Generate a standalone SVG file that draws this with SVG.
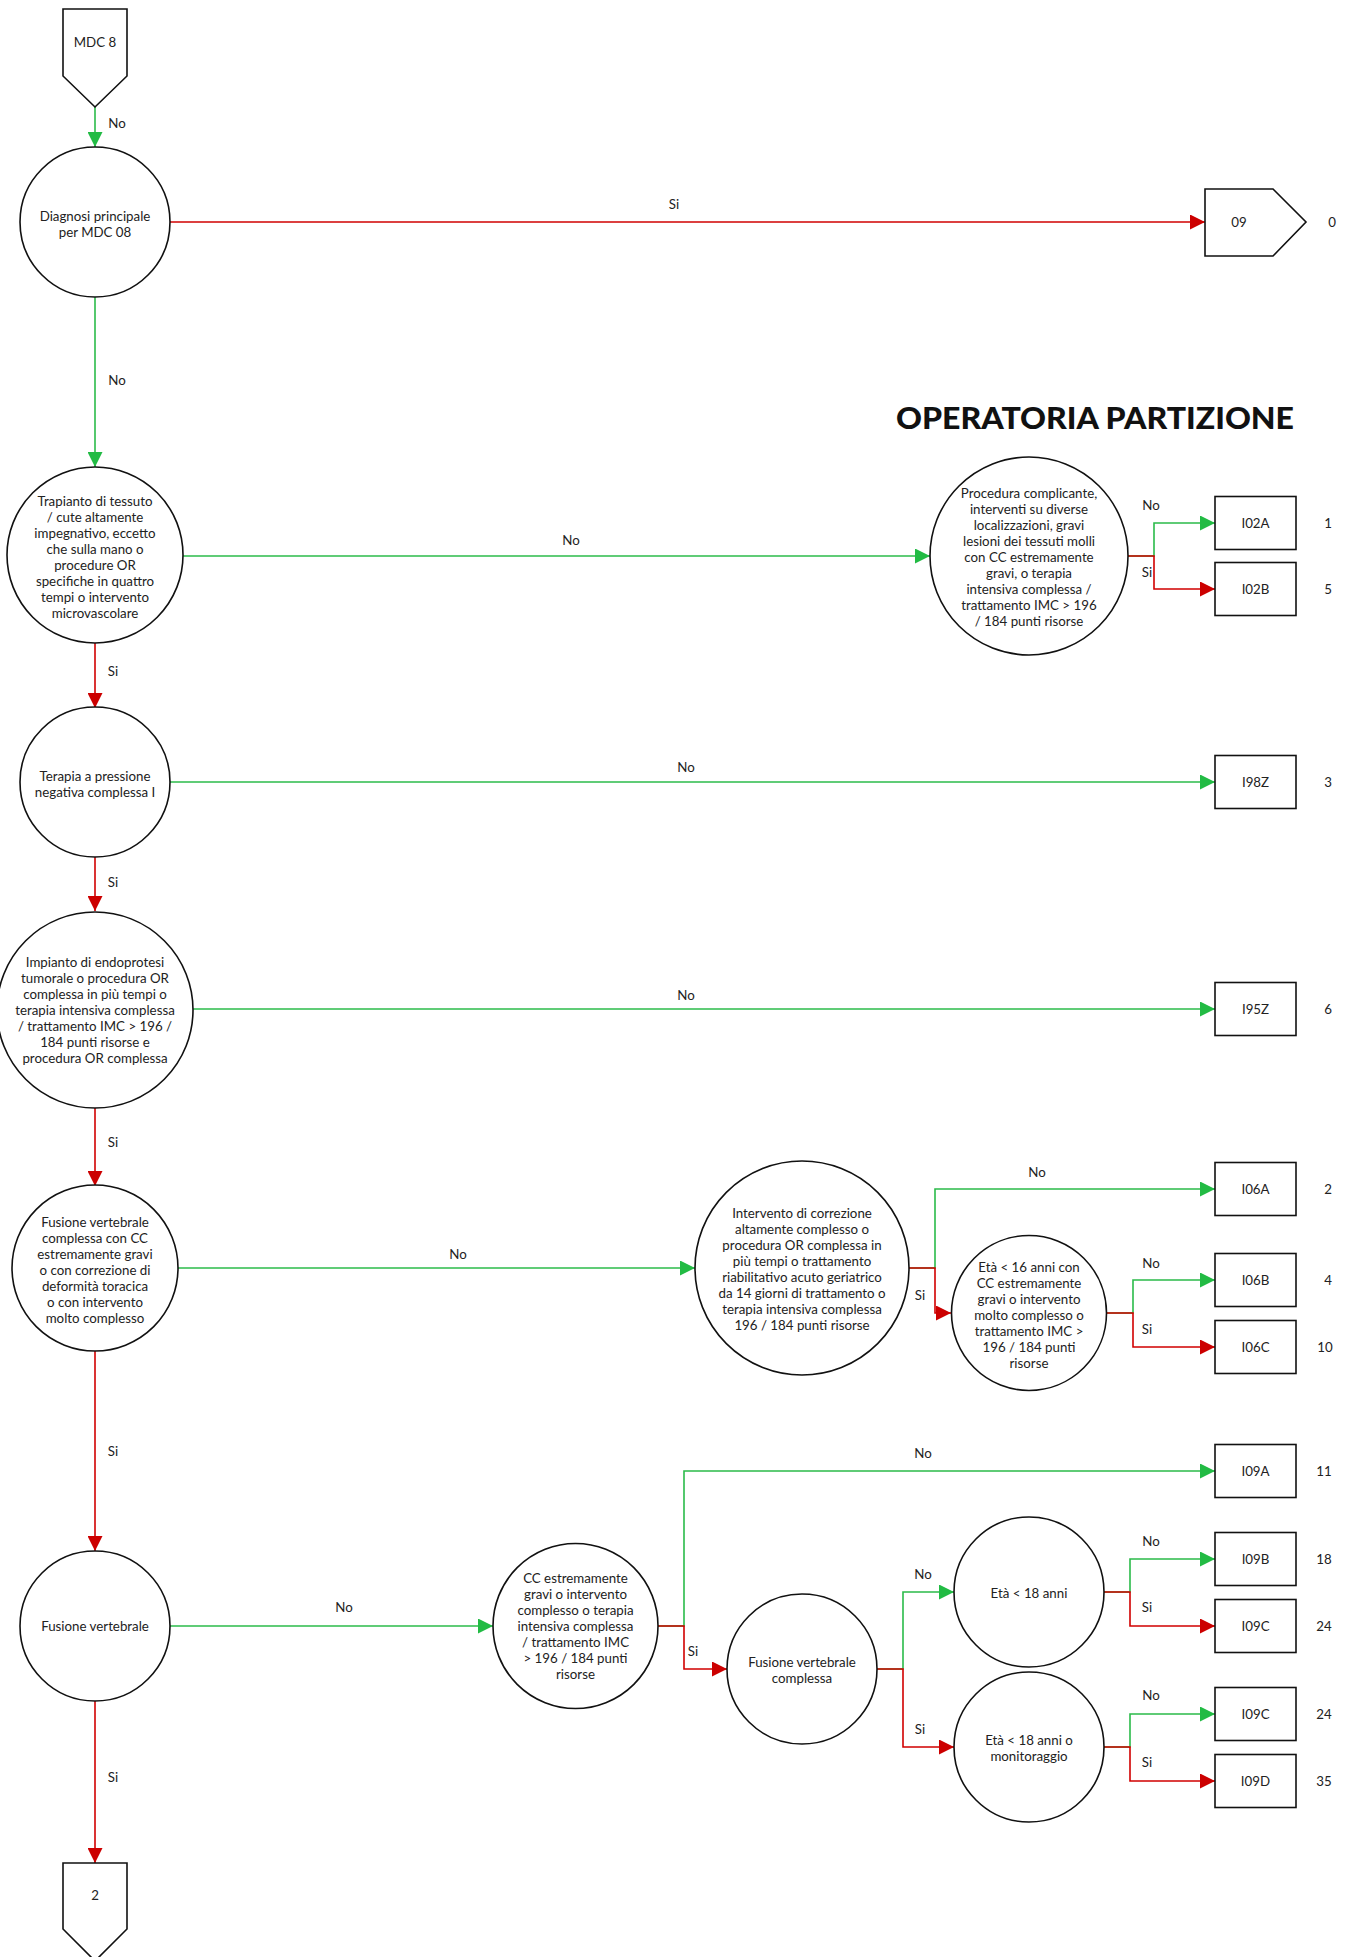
<svg xmlns="http://www.w3.org/2000/svg" width="1353" height="1957" viewBox="0 0 1353 1957">
<style>
text{font-family:Lato,"Noto Sans","Liberation Sans",sans-serif;font-size:13.3px;fill:#222;text-anchor:middle}
.node{fill:#fff;stroke:#111;stroke-width:1.6}
.g{fill:none;stroke:#2bbb4a;stroke-width:1.6}
.r{fill:none;stroke:#d10000;stroke-width:1.6}
.title{font-size:31px;font-weight:900;fill:#111;text-anchor:start}
</style>
<defs>
<marker id="ag" markerUnits="userSpaceOnUse" markerWidth="15" markerHeight="15" refX="15" refY="7.5" orient="auto"><path d="M0,0 L15,7.5 L0,15 z" fill="#22bb44"/></marker>
<marker id="ar" markerUnits="userSpaceOnUse" markerWidth="15" markerHeight="15" refX="15" refY="7.5" orient="auto"><path d="M0,0 L15,7.5 L0,15 z" fill="#cc0000"/></marker>
</defs>
<rect width="1353" height="1957" fill="#fff"/>
<g id="connectors">
<path class="g" marker-end="url(#ag)" d="M95,107 V147"/>
<path class="r" marker-end="url(#ar)" d="M170,222 H1205"/>
<path class="g" marker-end="url(#ag)" d="M95,297 V467"/>
<path class="g" marker-end="url(#ag)" d="M183,556 H930"/>
<path class="g" marker-end="url(#ag)" d="M1128,556 H1154 V523 H1215"/>
<path class="r" marker-end="url(#ar)" d="M1128,556 H1154 V589 H1215"/>
<path class="r" marker-end="url(#ar)" d="M95,643 V708"/>
<path class="g" marker-end="url(#ag)" d="M170,782 H1215"/>
<path class="r" marker-end="url(#ar)" d="M95,857 V911"/>
<path class="g" marker-end="url(#ag)" d="M193,1009 H1215"/>
<path class="r" marker-end="url(#ar)" d="M95,1108 V1186"/>
<path class="g" marker-end="url(#ag)" d="M178,1268 H695"/>
<path class="g" marker-end="url(#ag)" d="M909,1268 H935 V1189 H1215"/>
<path class="r" marker-end="url(#ar)" d="M909,1268 H935 V1313 H951"/>
<path class="g" marker-end="url(#ag)" d="M1106,1313 H1133 V1280 H1215"/>
<path class="r" marker-end="url(#ar)" d="M1106,1313 H1133 V1347 H1215"/>
<path class="r" marker-end="url(#ar)" d="M95,1351 V1551"/>
<path class="g" marker-end="url(#ag)" d="M170,1626 H493"/>
<path class="g" marker-end="url(#ag)" d="M658,1626 H684 V1471 H1215"/>
<path class="r" marker-end="url(#ar)" d="M658,1626 H684 V1669 H727"/>
<path class="g" marker-end="url(#ag)" d="M877,1669 H903 V1592 H954"/>
<path class="r" marker-end="url(#ar)" d="M877,1669 H903 V1747 H954"/>
<path class="g" marker-end="url(#ag)" d="M1103,1592 H1130 V1559 H1215"/>
<path class="r" marker-end="url(#ar)" d="M1103,1592 H1130 V1626 H1215"/>
<path class="g" marker-end="url(#ag)" d="M1103,1747 H1130 V1714 H1215"/>
<path class="r" marker-end="url(#ar)" d="M1103,1747 H1130 V1781 H1215"/>
<path class="r" marker-end="url(#ar)" d="M95,1700 V1863"/>
<text x="117" y="128">No</text>
<text x="674" y="209">Si</text>
<text x="117" y="385">No</text>
<text x="571" y="545">No</text>
<text x="1151" y="510">No</text>
<text x="1147" y="577">Si</text>
<text x="113" y="676">Si</text>
<text x="686" y="772">No</text>
<text x="113" y="887">Si</text>
<text x="686" y="1000">No</text>
<text x="113" y="1147">Si</text>
<text x="458" y="1259">No</text>
<text x="1037" y="1177">No</text>
<text x="920" y="1300">Si</text>
<text x="1151" y="1268">No</text>
<text x="1147" y="1334">Si</text>
<text x="113" y="1456">Si</text>
<text x="344" y="1612">No</text>
<text x="923" y="1458">No</text>
<text x="693" y="1656">Si</text>
<text x="923" y="1579">No</text>
<text x="920" y="1734">Si</text>
<text x="1151" y="1546">No</text>
<text x="1147" y="1612">Si</text>
<text x="1151" y="1700">No</text>
<text x="1147" y="1767">Si</text>
<text x="113" y="1782">Si</text>
</g>
<text class="title" x="896" y="429" textLength="398" lengthAdjust="spacingAndGlyphs">OPERATORIA PARTIZIONE</text>
<g id="mdc8"><polygon class="node" points="63,9 127,9 127,76 95,107 63,76"/><text x="95" y="46.5">MDC 8</text></g>
<g id="diagnosi"><circle class="node" cx="95" cy="222" r="75"/><text x="95" y="220.5">Diagnosi principale</text><text x="95" y="236.5">per MDC 08</text></g>
<g id="out09"><polygon class="node" points="1205,189 1273,189 1306,222 1273,256 1205,256"/><text x="1239" y="226.5">09</text><text x="1332" y="226.5">0</text></g>
<g id="trapianto"><circle class="node" cx="95" cy="555" r="88"/>
<text x="95" y="505.5">Trapianto di tessuto</text><text x="95" y="521.5">/ cute altamente</text><text x="95" y="537.5">impegnativo, eccetto</text><text x="95" y="553.5">che sulla mano o</text><text x="95" y="569.5">procedure OR</text><text x="95" y="585.5">specifiche in quattro</text><text x="95" y="601.5">tempi o intervento</text><text x="95" y="617.5">microvascolare</text></g>
<g id="procedura"><circle class="node" cx="1029" cy="556" r="99"/>
<text x="1029" y="497.5">Procedura complicante,</text><text x="1029" y="513.5">interventi su diverse</text><text x="1029" y="529.5">localizzazioni, gravi</text><text x="1029" y="545.5">lesioni dei tessuti molli</text><text x="1029" y="561.5">con CC estremamente</text><text x="1029" y="577.5">gravi, o terapia</text><text x="1029" y="593.5">intensiva complessa /</text><text x="1029" y="609.5">trattamento IMC &gt; 196</text><text x="1029" y="625.5">/ 184 punti risorse</text></g>
<g id="I02A"><rect class="node" x="1215" y="496.5" width="81" height="53"/><text x="1255.5" y="527.5">I02A</text><text x="1328" y="527.5">1</text></g>
<g id="I02B"><rect class="node" x="1215" y="562.5" width="81" height="53"/><text x="1255.5" y="593.5">I02B</text><text x="1328" y="593.5">5</text></g>
<g id="terapia"><circle class="node" cx="95" cy="782" r="75"/><text x="95" y="780.5">Terapia a pressione</text><text x="95" y="796.5">negativa complessa I</text></g>
<g id="I98Z"><rect class="node" x="1215" y="755.5" width="81" height="53"/><text x="1255.5" y="786.5">I98Z</text><text x="1328" y="786.5">3</text></g>
<g id="impianto"><circle class="node" cx="95" cy="1010" r="98"/>
<text x="95" y="966.5">Impianto di endoprotesi</text><text x="95" y="982.5">tumorale o procedura OR</text><text x="95" y="998.5">complessa in più tempi o</text><text x="95" y="1014.5">terapia intensiva complessa</text><text x="95" y="1030.5">/ trattamento IMC &gt; 196 /</text><text x="95" y="1046.5">184 punti risorse e</text><text x="95" y="1062.5">procedura OR complessa</text></g>
<g id="I95Z"><rect class="node" x="1215" y="982.5" width="81" height="53"/><text x="1255.5" y="1013.5">I95Z</text><text x="1328" y="1013.5">6</text></g>
<g id="fusionecc"><circle class="node" cx="95" cy="1268" r="83"/>
<text x="95" y="1226.5">Fusione vertebrale</text><text x="95" y="1242.5">complessa con CC</text><text x="95" y="1258.5">estremamente gravi</text><text x="95" y="1274.5">o con correzione di</text><text x="95" y="1290.5">deformità toracica</text><text x="95" y="1306.5">o con intervento</text><text x="95" y="1322.5">molto complesso</text></g>
<g id="intervento"><circle class="node" cx="802" cy="1268" r="107"/>
<text x="802" y="1217.5">Intervento di correzione</text><text x="802" y="1233.5">altamente complesso o</text><text x="802" y="1249.5">procedura OR complessa in</text><text x="802" y="1265.5">più tempi o trattamento</text><text x="802" y="1281.5">riabilitativo acuto geriatrico</text><text x="802" y="1297.5">da 14 giorni di trattamento o</text><text x="802" y="1313.5">terapia intensiva complessa</text><text x="802" y="1329.5">196 / 184 punti risorse</text></g>
<g id="I06A"><rect class="node" x="1215" y="1162.5" width="81" height="53"/><text x="1255.5" y="1193.5">I06A</text><text x="1328" y="1193.5">2</text></g>
<g id="eta16"><circle class="node" cx="1029" cy="1313" r="77.5"/>
<text x="1029" y="1271.5">Età &lt; 16 anni con</text><text x="1029" y="1287.5">CC estremamente</text><text x="1029" y="1303.5">gravi o intervento</text><text x="1029" y="1319.5">molto complesso o</text><text x="1029" y="1335.5">trattamento IMC &gt;</text><text x="1029" y="1351.5">196 / 184 punti</text><text x="1029" y="1367.5">risorse</text></g>
<g id="I06B"><rect class="node" x="1215" y="1253.5" width="81" height="53"/><text x="1255.5" y="1284.5">I06B</text><text x="1328" y="1284.5">4</text></g>
<g id="I06C"><rect class="node" x="1215" y="1320.5" width="81" height="53"/><text x="1255.5" y="1351.5">I06C</text><text x="1325" y="1351.5">10</text></g>
<g id="fusione"><circle class="node" cx="95" cy="1626" r="75"/><text x="95" y="1630.5">Fusione vertebrale</text></g>
<g id="cc"><circle class="node" cx="575.5" cy="1626" r="82.5"/>
<text x="575.5" y="1582.5">CC estremamente</text><text x="575.5" y="1598.5">gravi o intervento</text><text x="575.5" y="1614.5">complesso o terapia</text><text x="575.5" y="1630.5">intensiva complessa</text><text x="575.5" y="1646.5">/ trattamento IMC</text><text x="575.5" y="1662.5">&gt; 196 / 184 punti</text><text x="575.5" y="1678.5">risorse</text></g>
<g id="I09A"><rect class="node" x="1215" y="1444.5" width="81" height="53"/><text x="1255.5" y="1475.5">I09A</text><text x="1324" y="1475.5">11</text></g>
<g id="fvc"><circle class="node" cx="802" cy="1669" r="75"/><text x="802" y="1666.5">Fusione vertebrale</text><text x="802" y="1682.5">complessa</text></g>
<g id="eta18"><circle class="node" cx="1029" cy="1592" r="75"/><text x="1029" y="1597.5">Età &lt; 18 anni</text></g>
<g id="I09B"><rect class="node" x="1215" y="1532.5" width="81" height="53"/><text x="1255.5" y="1563.5">I09B</text><text x="1324" y="1563.5">18</text></g>
<g id="I09C1"><rect class="node" x="1215" y="1599.5" width="81" height="53"/><text x="1255.5" y="1630.5">I09C</text><text x="1324" y="1630.5">24</text></g>
<g id="monit"><circle class="node" cx="1029" cy="1747" r="75"/><text x="1029" y="1744.5">Età &lt; 18 anni o</text><text x="1029" y="1760.5">monitoraggio</text></g>
<g id="I09C2"><rect class="node" x="1215" y="1687.5" width="81" height="53"/><text x="1255.5" y="1718.5">I09C</text><text x="1324" y="1718.5">24</text></g>
<g id="I09D"><rect class="node" x="1215" y="1754.5" width="81" height="53"/><text x="1255.5" y="1785.5">I09D</text><text x="1324" y="1785.5">35</text></g>
<g id="out2"><polygon class="node" points="63,1863 127,1863 127,1929 95,1961 63,1929"/><text x="95" y="1899.5">2</text></g>
</svg>
